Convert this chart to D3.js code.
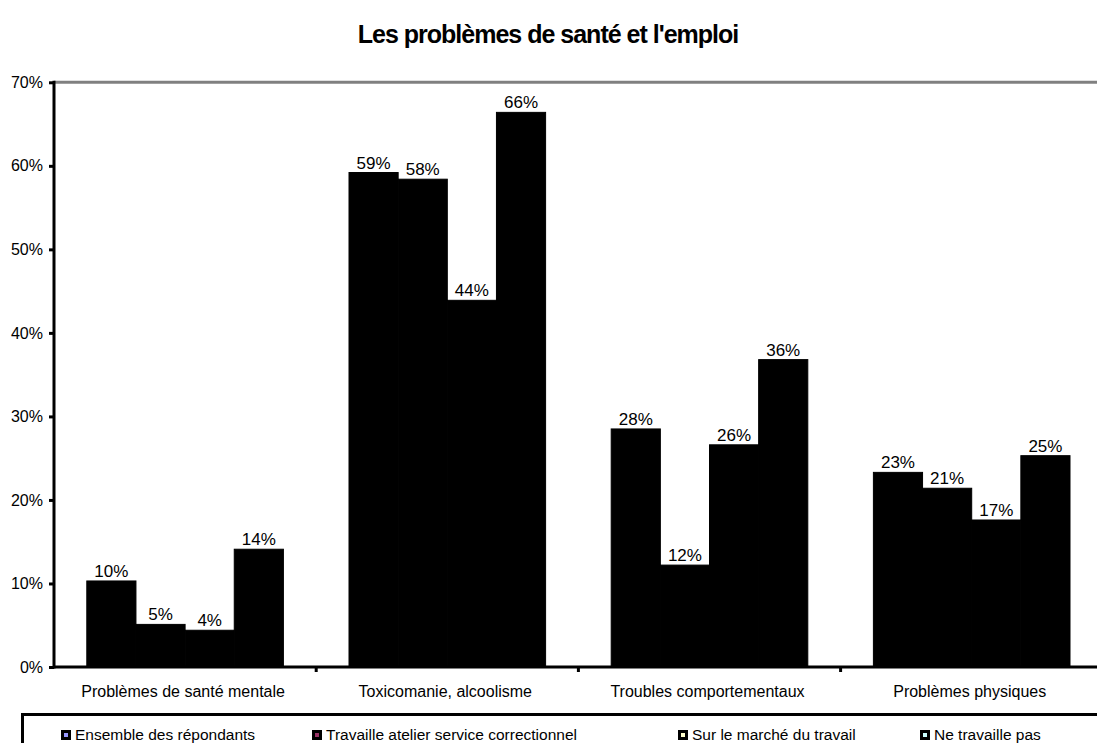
<!DOCTYPE html>
<html>
<head>
<meta charset="utf-8">
<script src="https://cdn.jsdelivr.net/npm/d3@7"></script>
<style>
  body { margin: 0; background: #fff; }
  text { font-family: "Liberation Sans", Arial, sans-serif; fill: #000; }
</style>
</head>
<body>
<svg width="1097" height="743"></svg>
<script>

// chart data
const categories  = ["Problèmes de santé mentale", "Toxicomanie, alcoolisme",
                     "Troubles comportementaux", "Problèmes physiques"];
const seriesNames = ["Ensemble des répondants", "Travaille atelier service correctionnel",
                     "Sur le marché du travail", "Ne travaille pas"];
const seriesKeys  = ["ensemble", "atelier", "marche", "neTravaille"];
const swatchFill  = ["#9999ff", "#993366", "#ffffcc", "#ccffff"];

// values in %
const ensemble    = [10.3, 59.2, 28.5, 23.3];
const atelier     = [5.1,  58.4, 12.2, 21.4];
const marche      = [4.4,  43.9, 26.6, 17.6];
const neTravaille = [14.1, 66.4, 36.8, 25.3];

// data labels as printed on the chart
const ensembleLbl    = [10, 59, 28, 23];
const atelierLbl     = [5,  58, 12, 21];
const marcheLbl      = [4,  44, 26, 17];
const neTravailleLbl = [14, 66, 36, 25];

const yTicks = [0, 10, 20, 30, 40, 50, 60, 70];

const values = [ensemble, atelier, marche, neTravaille];
const labels = [ensembleLbl, atelierLbl, marcheLbl, neTravailleLbl];

const svg = d3.select("svg");

const x0_left   = 54;
const bandWidth = 262.2;
const plotTop   = 82.3;
const plotBot   = 667;

const x0 = d3.scaleBand()
  .domain(categories)
  .range([x0_left, x0_left + bandWidth * categories.length])
  .paddingInner(0).paddingOuter(0);

const x1 = d3.scaleBand()
  .domain(seriesKeys)
  .range([32.8, bandWidth - 32.8]);

const y = d3.scaleLinear().domain([0, 70]).range([plotBot, plotTop]);

// title
svg.append("text")
  .attr("x", 548).attr("y", 43)
  .attr("text-anchor", "middle")
  .style("font-size", "25px").style("font-weight", "bold")
  .style("letter-spacing", "-1px")
  .text("Les problèmes de santé et l'emploi");

// top border (grey)
svg.append("line")
  .attr("x1", x0_left).attr("x2", 1097)
  .attr("y1", plotTop).attr("y2", plotTop)
  .attr("stroke", "#808080").attr("stroke-width", 3);

// bars
const rows = [];
categories.forEach((c, ci) => {
  seriesKeys.forEach((k, si) => {
    rows.push({cat: c, key: k, v: values[si][ci], lbl: labels[si][ci]});
  });
});

const gBars = svg.append("g");
gBars.selectAll("rect")
  .data(rows)
  .enter().append("rect")
  .attr("x", d => x0(d.cat) + x1(d.key))
  .attr("y", d => y(d.v))
  .attr("width", x1.bandwidth())
  .attr("height", d => y(0) - y(d.v))
  .attr("fill", "#000")
  .attr("stroke", "#000").attr("stroke-width", 1);

gBars.selectAll("text")
  .data(rows)
  .enter().append("text")
  .attr("x", d => x0(d.cat) + x1(d.key) + x1.bandwidth() / 2)
  .attr("y", d => y(d.v) - 4)
  .attr("text-anchor", "middle")
  .style("font-size", "17px")
  .text(d => d.lbl + "%");

// y axis
const yAxis = d3.axisLeft(y)
  .tickValues(yTicks)
  .tickFormat(d => d + "%")
  .tickSize(5).tickPadding(6);

const gy = svg.append("g")
  .attr("transform", `translate(${x0_left},0)`)
  .call(yAxis);
gy.select(".domain").remove();
gy.selectAll(".tick line").attr("stroke", "#000").attr("stroke-width", 3);
gy.selectAll(".tick text").style("font-size", "16px")
  .style("font-family", "'Liberation Sans', Arial, sans-serif");
gy.append("line")
  .attr("x1", 0).attr("x2", 0)
  .attr("y1", plotTop - 1.5).attr("y2", plotBot + 1.5)
  .attr("stroke", "#000").attr("stroke-width", 3);

// x axis
const gx = svg.append("g").attr("transform", `translate(0,${plotBot})`);
gx.append("line")
  .attr("x1", x0_left).attr("x2", 1097)
  .attr("stroke", "#000").attr("stroke-width", 3);
gx.selectAll("line.tick")
  .data(categories.slice(1))
  .enter().append("line")
  .attr("class", "tick")
  .attr("x1", d => x0(d)).attr("x2", d => x0(d))
  .attr("y1", 0).attr("y2", 5)
  .attr("stroke", "#000").attr("stroke-width", 3);
gx.selectAll("text")
  .data(categories)
  .enter().append("text")
  .attr("x", d => x0(d) + x0.bandwidth() / 2 - 2)
  .attr("y", 30)
  .attr("text-anchor", "middle")
  .style("font-size", "16px")
  .text(d => d);

// legend
const legX = [61, 312, 678, 920];
svg.append("rect")
  .attr("x", 22.5).attr("y", 714.5)
  .attr("width", 1090).attr("height", 60)
  .attr("fill", "none").attr("stroke", "#000").attr("stroke-width", 3);

const gLeg = svg.append("g").selectAll("g")
  .data(seriesNames)
  .enter().append("g")
  .attr("transform", (d, i) => `translate(${legX[i]},730)`);
gLeg.append("rect")
  .attr("width", 10).attr("height", 10).attr("fill", "#000");
gLeg.append("rect")
  .attr("x", 3).attr("y", 3).attr("width", 4).attr("height", 4)
  .attr("fill", (d, i) => swatchFill[i]);
gLeg.append("text")
  .attr("x", 14).attr("y", 10)
  .style("font-size", "15.5px")
  .text(d => d);

</script>
</body>
</html>
